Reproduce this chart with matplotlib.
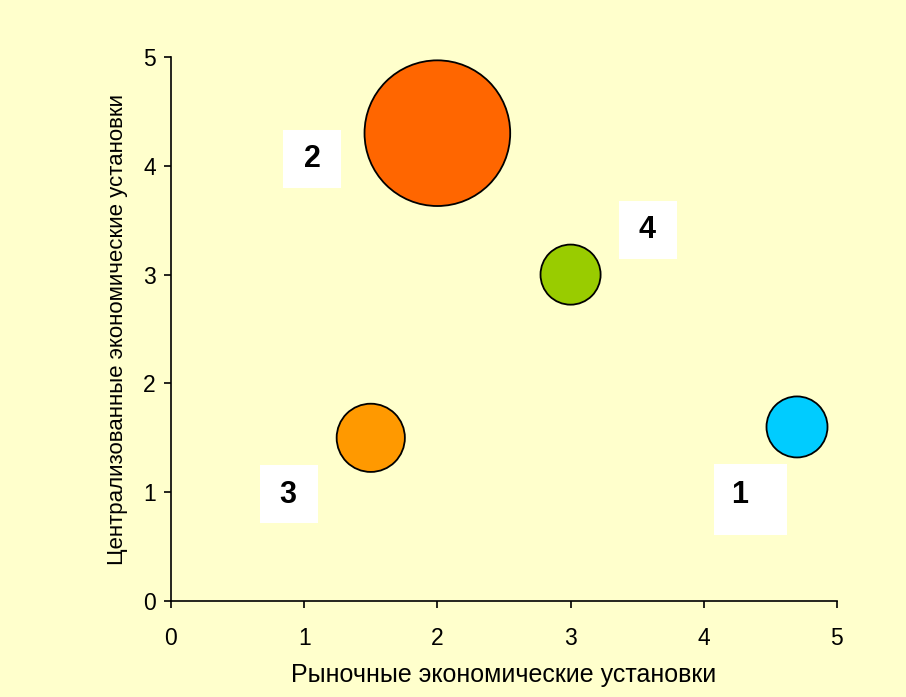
import matplotlib
matplotlib.use("Agg")
import matplotlib.pyplot as plt
from matplotlib.patches import Rectangle
from matplotlib.transforms import IdentityTransform

plt.rcParams['font.family'] = ['Liberation Sans', 'DejaVu Sans']

# Data
labels = ["1", "2", "3", "4"]
x_vals = [4.7, 2.0, 1.5, 3.0]
y_vals = [1.6, 4.3, 1.5, 3.0]
bubble_sizes = [1.0, 5.7, 1.25, 0.97]
colors = ["#00CCFF", "#FF6600", "#FF9900", "#99CC00"]
ticks = [0, 1, 2, 3, 4, 5]

# label box layout: offset of box centre from bubble centre (px, y downward), box size (px),
# and offset of the label text from bubble centre
box_offsets = [(-46.5, 72.5), (-125, 26), (-82, 56), (77, -45)]
box_sizes = [(73, 71), (58, 58), (58, 58), (58, 58)]
text_offsets = [(-57, 68), (-125, 26), (-83, 57), (76, -45)]

bg = "#FFFFCC"
fig = plt.figure(figsize=(9.06, 6.97), dpi=100, facecolor=bg)
ax = fig.add_axes([0.1887, 0.1377, 0.7351, 0.7805], facecolor=bg)

ax.set_xlim(0, 5)
ax.set_ylim(0, 5)

size_scale = 1930
ax.scatter(x_vals, y_vals, s=[b * size_scale for b in bubble_sizes], c=colors,
           edgecolors="black", linewidths=1.3, zorder=3, clip_on=False)

for lab, x, y, bo, bs, to in zip(labels, x_vals, y_vals, box_offsets, box_sizes, text_offsets):
    px, py = ax.transData.transform((x, y))
    cx, cy = px + bo[0], py - bo[1]
    ax.add_patch(Rectangle((cx - bs[0] / 2, cy - bs[1] / 2), bs[0], bs[1],
                           transform=IdentityTransform(), facecolor="white",
                           edgecolor="none", zorder=2, clip_on=False))
    ax.annotate(lab, (x, y), xytext=(to[0] * 0.72, -to[1] * 0.72), textcoords="offset points",
                ha="center", va="center", fontsize=22, fontweight="bold", zorder=4)

ax.set_xticks(ticks)
ax.set_yticks(ticks)
ax.tick_params(axis="both", direction="out", length=5, width=1.2, labelsize=16.5)
ax.tick_params(axis="x", pad=14)
ax.tick_params(axis="y", pad=6)
for s in ["top", "right"]:
    ax.spines[s].set_visible(False)
for s in ["left", "bottom"]:
    ax.spines[s].set_linewidth(1.2)

ax.set_xlabel("Рыночные экономические установки", fontsize=18, labelpad=9)
ax.set_ylabel("Централизованные экономические установки", fontsize=16, labelpad=11)

fig.savefig("out.png", dpi=100, facecolor=bg)
